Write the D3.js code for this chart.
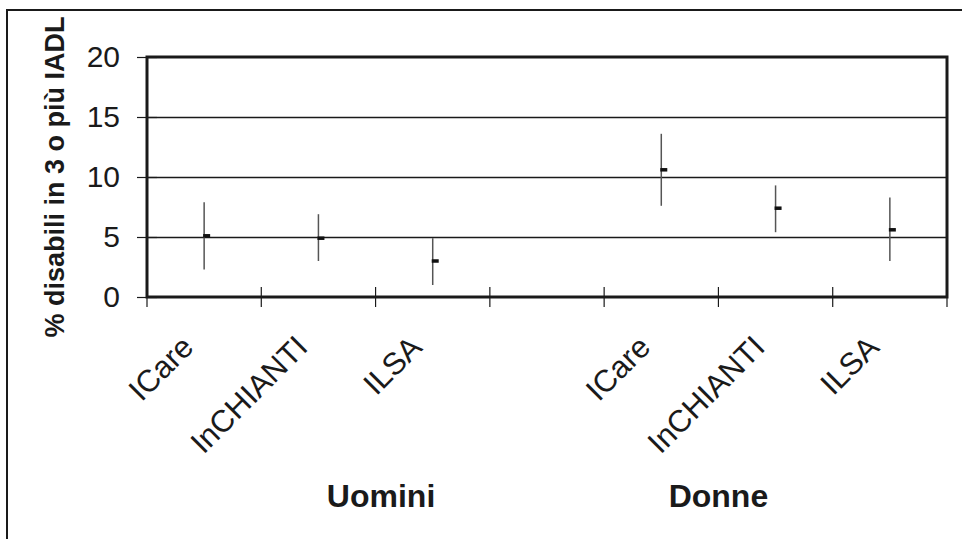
<!DOCTYPE html>
<html>
<head>
<meta charset="utf-8">
<script src="https://cdn.jsdelivr.net/npm/d3@7"></script>
<style>
  html, body { margin: 0; padding: 0; background: #fff; }
  svg { display: block; font-family: "Liberation Sans", Arial, sans-serif; }
</style>
</head>
<body>
<svg id="chart" width="962" height="539"></svg>
<script>
const categories = ["ICare", "InCHIANTI", "ILSA", "", "ICare", "InCHIANTI", "ILSA"];
const groups = ["Uomini", "Donne"];
const means = [5.1, 4.9, 3.0, null, 10.6, 7.4, 5.6];
const lows  = [2.3, 3.0, 1.0, null, 7.6, 5.4, 3.0];
const highs = [7.9, 6.9, 4.9, null, 13.6, 9.3, 8.3];
const yTicks = [0, 5, 10, 15, 20];
const yTitle = "% disabili in 3 o più IADL";

(function () {
const svg = d3.select("#chart");
const ink = "#1a1a1a";
const pL = 147, pR = 947, pT = 57, pB = 297;

const keys = categories.map((c, i) => i);
const x = d3.scaleBand().domain(keys).range([pL, pR]).padding(0);
const y = d3.scaleLinear().domain([0, 20]).range([pB, pT]);
const bw = x.bandwidth();

// outer frame
svg.append("rect").attr("x", 7).attr("y", 10).attr("width", 1000).attr("height", 700)
  .attr("fill", "none").attr("stroke", ink).attr("stroke-width", 2);

// gridlines
svg.append("g").selectAll("line").data(yTicks.filter(t => t > 0 && t < 20)).join("line")
  .attr("x1", pL).attr("x2", pR)
  .attr("y1", d => y(d) + 0.5).attr("y2", d => y(d) + 0.5)
  .attr("stroke", ink).attr("stroke-width", 1.3);

// y axis
const yAxis = svg.append("g").attr("transform", `translate(${pL},0)`)
  .call(d3.axisLeft(y).tickValues(yTicks).tickSize(10).tickPadding(17));
yAxis.select(".domain").remove();
yAxis.selectAll(".tick line").attr("x1", 10).attr("stroke", ink).attr("stroke-width", 1.2);
yAxis.selectAll(".tick text").attr("font-size", 30).attr("fill", ink)
  .attr("font-family", "'Liberation Sans', Arial, sans-serif");

// x boundary ticks
const bounds = keys.map(k => x(k)).concat([pR]);
svg.append("g").selectAll("line").data(bounds).join("line")
  .attr("x1", d => d).attr("x2", d => d)
  .attr("y1", pB - 10).attr("y2", pB + 10)
  .attr("stroke", ink).attr("stroke-width", 1.2);

// plot border
svg.append("rect").attr("x", pL).attr("y", pT).attr("width", pR - pL).attr("height", pB - pT)
  .attr("fill", "none").attr("stroke", ink).attr("stroke-width", 3);

// error bars
const idx = keys.filter(i => means[i] != null);
svg.append("g").selectAll("line").data(idx).join("line")
  .attr("x1", i => x(i) + bw / 2).attr("x2", i => x(i) + bw / 2)
  .attr("y1", i => y(highs[i])).attr("y2", i => y(lows[i]))
  .attr("stroke", "#555").attr("stroke-width", 1.5);

// mean markers
svg.append("g").selectAll("rect").data(idx).join("rect")
  .attr("x", i => x(i) + bw / 2 - 1).attr("y", i => y(means[i]) - 1.75)
  .attr("width", 7).attr("height", 3.5).attr("fill", "#111");

// category labels
svg.append("g").selectAll("text").data(keys).join("text")
  .attr("transform", i => `translate(${x(i) + bw / 2 - 9},349) rotate(-45)`)
  .attr("text-anchor", "end").attr("font-size", 31).attr("fill", ink)
  .text(i => categories[i]);

// group labels
const groupX = [x(2) + 5.5, x(5)];
svg.append("g").selectAll("text").data(groups).join("text")
  .attr("x", (d, i) => groupX[i]).attr("y", 507)
  .attr("text-anchor", "middle").attr("font-size", 32).attr("font-weight", "bold").attr("fill", ink)
  .text(d => d);

// y title
svg.append("text")
  .attr("transform", `translate(64,177) rotate(-90)`)
  .attr("text-anchor", "middle").attr("font-size", 27).attr("font-weight", "bold").attr("fill", ink)
  .text(yTitle);
})();
</script>
</body>
</html>
